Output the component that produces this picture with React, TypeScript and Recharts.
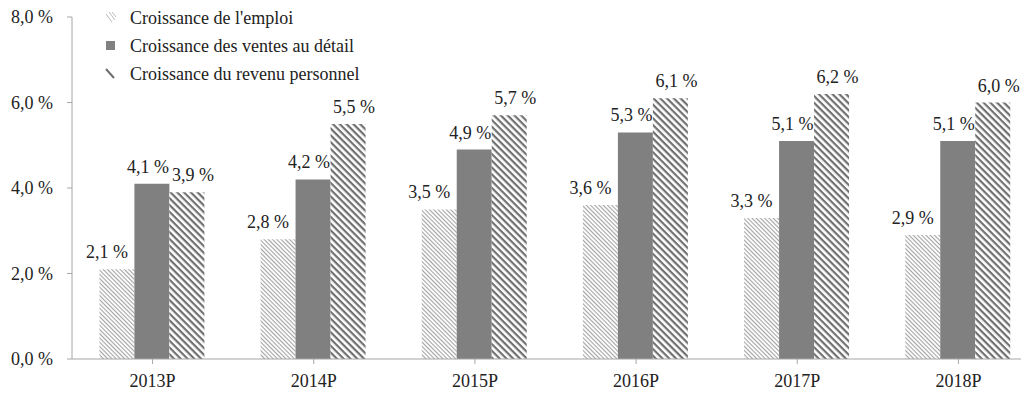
import { Bar, BarChart, LabelList, XAxis, YAxis } from 'recharts'

const years = ['2013P', '2014P', '2015P', '2016P', '2017P', '2018P']
const emploi = [2.1, 2.8, 3.5, 3.6, 3.3, 2.9]
const ventes = [4.1, 4.2, 4.9, 5.3, 5.1, 5.1]
const revenu = [3.9, 5.5, 5.7, 6.1, 6.2, 6.0]
const yTicks = [0, 2, 4, 6, 8]

const seriesNames = {
  emploi: "Croissance de l'emploi",
  ventes: 'Croissance des ventes au détail',
  revenu: 'Croissance du revenu personnel'
}

const data = years.map((year, i) => ({
  year,
  emploi: emploi[i],
  ventes: ventes[i],
  revenu: revenu[i]
}))

const FONT = '"Liberation Serif", "Times New Roman", serif'
const TEXT = '#222'
const AXIS = '#a6a6a6'

const fmt = (v: number) => `${v.toFixed(1).replace('.', ',')} %`

const makeLabel = (dx: number) => (props: any) => {
  const { x, y, width, value } = props
  return (
    <text
      x={Number(x) + Number(width) / 2 + dx}
      y={Number(y) - 11}
      textAnchor="middle"
      fontFamily={FONT}
      fontSize={18}
      fill={TEXT}
    >
      {fmt(Number(value))}
    </text>
  )
}

// legend drawn as an overlay so it takes no room from the plot
const LegendBox = () => (
  <div
    style={{
      position: 'absolute',
      top: -4,
      left: 96,
      fontFamily: FONT,
      fontSize: 18,
      color: TEXT,
      lineHeight: '28px'
    }}
  >
    <div style={{ display: 'flex', alignItems: 'center' }}>
      <svg width={26} height={14}>
        <line x1={2} y1={3} x2={8} y2={11} stroke="#bbb" strokeWidth={1} />
        <line x1={5} y1={1} x2={11} y2={9} stroke="#bbb" strokeWidth={1} />
        <line x1={8} y1={1} x2={12} y2={6} stroke="#bbb" strokeWidth={1} />
      </svg>
      <span>{seriesNames.emploi}</span>
    </div>
    <div style={{ display: 'flex', alignItems: 'center' }}>
      <svg width={26} height={14}>
        <rect x={2} y={2} width={9} height={9} fill="#808080" />
      </svg>
      <span>{seriesNames.ventes}</span>
    </div>
    <div style={{ display: 'flex', alignItems: 'center' }}>
      <svg width={26} height={14}>
        <line x1={2} y1={2} x2={10} y2={11} stroke="#6e6e6e" strokeWidth={2} />
      </svg>
      <span>{seriesNames.revenu}</span>
    </div>
  </div>
)

export default function App() {
  return (
    <div style={{ position: 'relative', width: 1021, height: 388, overflow: 'hidden' }}>
      <BarChart
        width={1035}
        height={388}
        data={data}
        margin={{ top: 9, right: 4, left: 0, bottom: 7 }}
        barCategoryGap="17%"
        barGap={0}
      >
        <defs>
          <pattern id="hatchFine" width={3} height={3} patternUnits="userSpaceOnUse" patternTransform="rotate(45)">
            <rect width={3} height={3} fill="#fff" />
            <rect y={0} width={3} height={1.1} fill="#a3a3a3" />
          </pattern>
          <pattern id="hatchWide" width={4.8} height={4.8} patternUnits="userSpaceOnUse" patternTransform="rotate(45)">
            <rect width={4.8} height={4.8} fill="#fff" />
            <rect y={0} width={4.8} height={2.2} fill="#707070" />
          </pattern>
        </defs>
        <XAxis
          dataKey="year"
          height={30}
          stroke={AXIS}
          tickSize={5}
          tickMargin={10}
          tick={{ fill: TEXT, fontFamily: FONT, fontSize: 18 }}
        />
        <YAxis
          width={64}
          domain={[0, 8]}
          ticks={yTicks}
          interval={0}
          stroke={AXIS}
          tickSize={5}
          tickMargin={14}
          tickFormatter={fmt}
          tick={{ fill: TEXT, fontFamily: FONT, fontSize: 18 }}
        />
        <Bar dataKey="emploi" name={seriesNames.emploi} fill="url(#hatchFine)" isAnimationActive={false}>
          <LabelList dataKey="emploi" content={makeLabel(-10)} />
        </Bar>
        <Bar dataKey="ventes" name={seriesNames.ventes} fill="#808080" isAnimationActive={false}>
          <LabelList dataKey="ventes" content={makeLabel(-4)} />
        </Bar>
        <Bar dataKey="revenu" name={seriesNames.revenu} fill="url(#hatchWide)" isAnimationActive={false}>
          <LabelList dataKey="revenu" content={makeLabel(6)} />
        </Bar>
      </BarChart>
      <LegendBox />
    </div>
  )
}
